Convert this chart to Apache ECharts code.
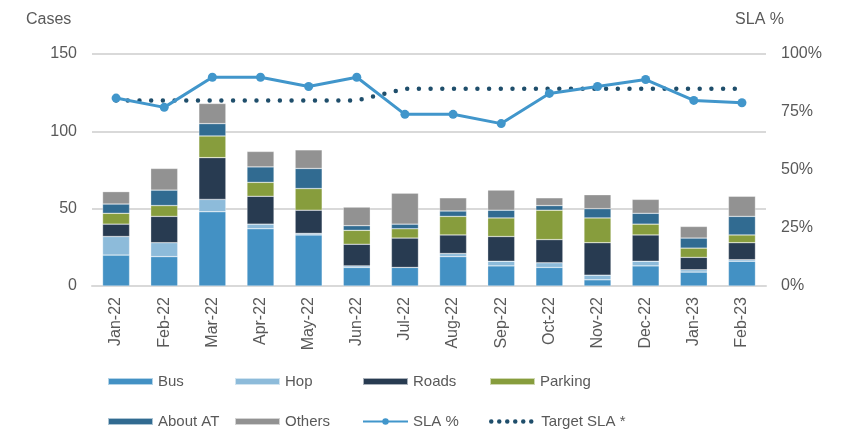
<!DOCTYPE html>
<html>
<head>
<meta charset="utf-8">
<script src="https://cdn.jsdelivr.net/npm/echarts@6/dist/echarts.min.js"></script>
<style>
  html, body { margin: 0; padding: 0; background: #fff; }
  #chart { width: 841px; height: 429px; }
</style>
</head>
<body>
<div id="chart"></div>
<script>
const months = ["Jan-22", "Feb-22", "Mar-22", "Apr-22", "May-22", "Jun-22", "Jul-22",
  "Aug-22", "Sep-22", "Oct-22", "Nov-22", "Dec-22", "Jan-23", "Feb-23"];

const bus = [20, 19, 48, 37, 33, 12, 12, 19, 13, 12, 4, 13, 9, 16];
const hop = [12, 9, 8, 3, 1, 1, 0, 2, 3, 3, 3, 3, 1.5, 1];
const roads = [8, 17, 27, 18, 15, 14, 19, 12, 16, 15, 21, 17, 8, 11];
const parking = [7, 7, 14, 9, 14, 9, 6, 12, 12, 19, 16, 7, 6, 5];
const aboutAt = [6, 10, 8, 10, 13, 3, 3, 3.5, 5, 3, 6, 7, 6.5, 12];
const others = [8, 14, 13, 10, 12, 12, 20, 8.5, 13, 5, 9, 9, 7.5, 13];

const slaPct = [81, 77, 90, 90, 86, 90, 74, 74, 70, 83, 86, 89, 80, 79];
const targetSla = [80, 80, 80, 80, 80, 80, 85, 85, 85, 85, 85, 85, 85, 85];

const leftTicks = { min: 0, max: 150, interval: 50 };
const rightTicks = { min: 0, max: 100, interval: 25 };

const textColor = "#595959";
const font = "Liberation Sans, Arial, sans-serif";

const barSeries = [
  { name: "Bus", data: bus, color: "#4391C4" },
  { name: "Hop", data: hop, color: "#8DBBDA" },
  { name: "Roads", data: roads, color: "#283B51" },
  { name: "Parking", data: parking, color: "#879D3D" },
  { name: "About AT", data: aboutAt, color: "#316B91" },
  { name: "Others", data: others, color: "#929292" },
].map((s) => ({
  name: s.name,
  type: "bar",
  stack: "cases",
  barWidth: 27,
  data: s.data,
  itemStyle: { color: s.color, borderColor: "rgba(255,255,255,0.6)", borderWidth: 0.5 },
}));

// legend laid out as a 4x2 grid
const legendOrder = ["Bus", "Hop", "Roads", "Parking", "About AT", "Others", "SLA %", "Target SLA *"];
const legendCols = [102, 229, 357, 484];
const legendRows = [369, 409];

const legends = legendOrder.map((name, i) => {
  const lg = {
    data: [name],
    left: legendCols[i % 4],
    top: legendRows[Math.floor(i / 4)],
    itemWidth: 45,
    itemHeight: 8,
    itemGap: 4,
    selectedMode: false,
    textStyle: { color: textColor, fontSize: 15, fontFamily: font },
  };
  if (i < 6) {
    lg.icon = "rect";
    lg.itemHeight = 7;
  }
  if (name === "Target SLA *") {
    lg.lineStyle = { type: [0, 8], width: 4.5, cap: "round" };
    lg.itemStyle = { opacity: 0 };
  }
  return lg;
});

const chart = echarts.init(document.getElementById("chart"));

chart.setOption({
  animation: false,
  textStyle: { fontFamily: font },
  title: [
    { text: "Cases", left: 21, top: 7, textStyle: { color: textColor, fontSize: 16, fontWeight: "normal", fontFamily: font } },
    { text: "SLA %", right: 52, top: 7, textStyle: { color: textColor, fontSize: 16, fontWeight: "normal", fontFamily: font } },
  ],
  grid: { left: 92, right: 75, top: 54, bottom: 143 },
  legend: legends,
  xAxis: {
    type: "category",
    data: months,
    axisTick: { show: false },
    axisLine: { lineStyle: { color: "#D9D9D9", width: 2 } },
    axisLabel: { rotate: 90, margin: 11, color: textColor, fontSize: 16, fontFamily: font },
  },
  yAxis: [
    {
      type: "value",
      ...leftTicks,
      axisLine: { show: false },
      axisTick: { show: false },
      axisLabel: { margin: 15, color: textColor, fontSize: 16, fontFamily: font },
      splitLine: { lineStyle: { color: "#D9D9D9", width: 2 } },
    },
    {
      type: "value",
      ...rightTicks,
      axisLine: { show: false },
      axisTick: { show: false },
      axisLabel: { margin: 15, color: textColor, fontSize: 16, fontFamily: font, formatter: "{value}%" },
      splitLine: { show: false },
    },
  ],
  series: [
    ...barSeries,
    {
      name: "SLA %",
      type: "line",
      yAxisIndex: 1,
      data: slaPct,
      symbol: "circle",
      symbolSize: 9,
      color: "#4196CB",
      lineStyle: { color: "#4196CB", width: 3 },
      itemStyle: { color: "#4196CB" },
      z: 4,
    },
    {
      name: "Target SLA *",
      type: "line",
      yAxisIndex: 1,
      data: targetSla,
      symbol: "none",
      color: "#1F4E6B",
      lineStyle: { color: "#1F4E6B", width: 4.5, type: [0, 11.7], cap: "round" },
      z: 3,
    },
  ],
});
</script>
</body>
</html>
